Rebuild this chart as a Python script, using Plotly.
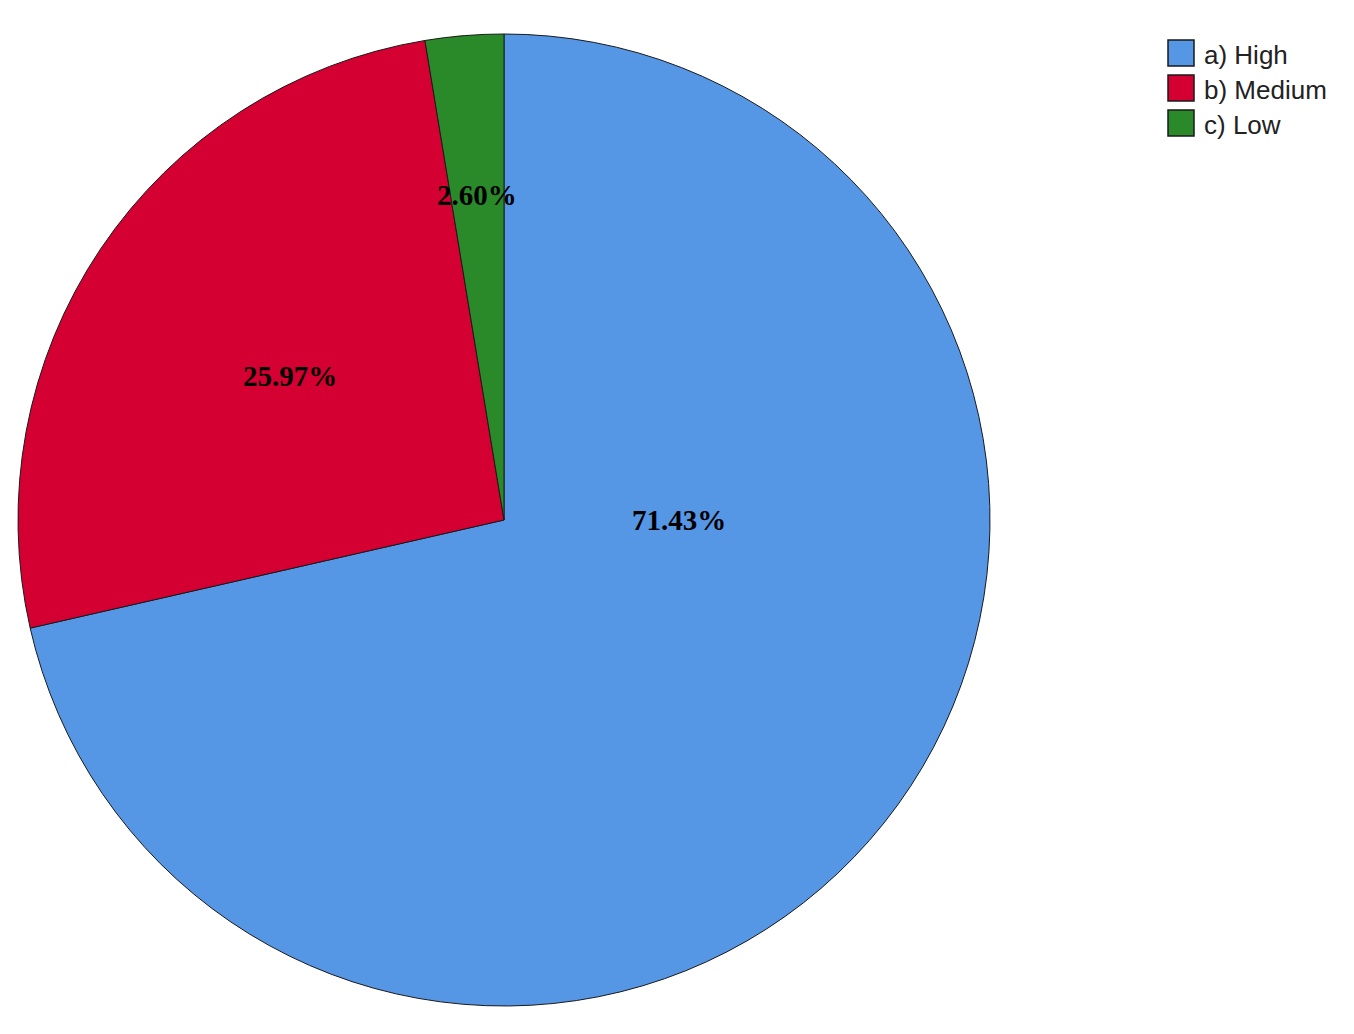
"""Pie chart of High / Medium / Low shares."""

import math
import plotly.graph_objects as go

categories = ["a) High", "b) Medium", "c) Low"]
percentages = [71.43, 25.97, 2.60]
colors = ["#5596E5", "#D50032", "#2A8A2A"]

# page body has an 8px margin, so the figure starts at (8, 8) on screen
OFF = 8
W, H = 1354 - OFF, 1034 - OFF
cx, cy, r = 504 - OFF, 520 - OFF, 486  # pie centre and radius in figure pixels


def px(x):
    return x / W


def py(y):
    return 1 - y / H


fig = go.Figure(go.Pie(
    labels=categories,
    values=percentages,
    sort=False,
    direction="clockwise",
    rotation=0,
    textinfo="none",
    hoverinfo="label+percent",
    showlegend=False,
    marker=dict(colors=colors, line=dict(color="#1a1a1a", width=1)),
    domain=dict(x=[px(cx - r), px(cx + r)], y=[py(cy + r), py(cy - r)]),
))

# label placement (fraction of radius, angle from 12 o'clock clockwise)
label_r = [0.36, 0.53, 0.67]
total = sum(percentages)
cum = 0
for i, p in enumerate(percentages):
    mid = (cum + p / 2) / total * 360
    cum += p
    ang = 90 if i == 0 else mid
    x = cx + label_r[i] * r * math.sin(math.radians(ang))
    y = cy - label_r[i] * r * math.cos(math.radians(ang))
    fig.add_annotation(x=px(x), y=py(y), xref="paper", yref="paper",
                       xanchor="center", yanchor="middle",
                       text=f"<b>{p:.2f}%</b>", showarrow=False,
                       font=dict(family="Liberation Serif, Times New Roman, serif", size=29, color="black"))

# legend drawn by hand so the swatches match the large bordered squares
lx, ly, box, step = 1168 - OFF, 40 - OFF, 26, 35
for i, (lab, col) in enumerate(zip(categories, colors)):
    top = ly + i * step
    fig.add_shape(type="rect", xref="paper", yref="paper",
                  x0=px(lx), x1=px(lx + box), y0=py(top + box), y1=py(top),
                  fillcolor=col, line=dict(color="#1a1a1a", width=1.5))
    fig.add_annotation(x=px(lx + box + 8), y=py(top + box / 2 + 2), xref="paper", yref="paper",
                       xanchor="left", yanchor="middle", text=lab, showarrow=False,
                       font=dict(family="Liberation Sans, Arial, sans-serif", size=26, color="#222"))

fig.update_layout(
    width=W, height=H,
    margin=dict(l=0, r=0, t=0, b=0),
    paper_bgcolor="white",
)

fig.write_html("out.html")
